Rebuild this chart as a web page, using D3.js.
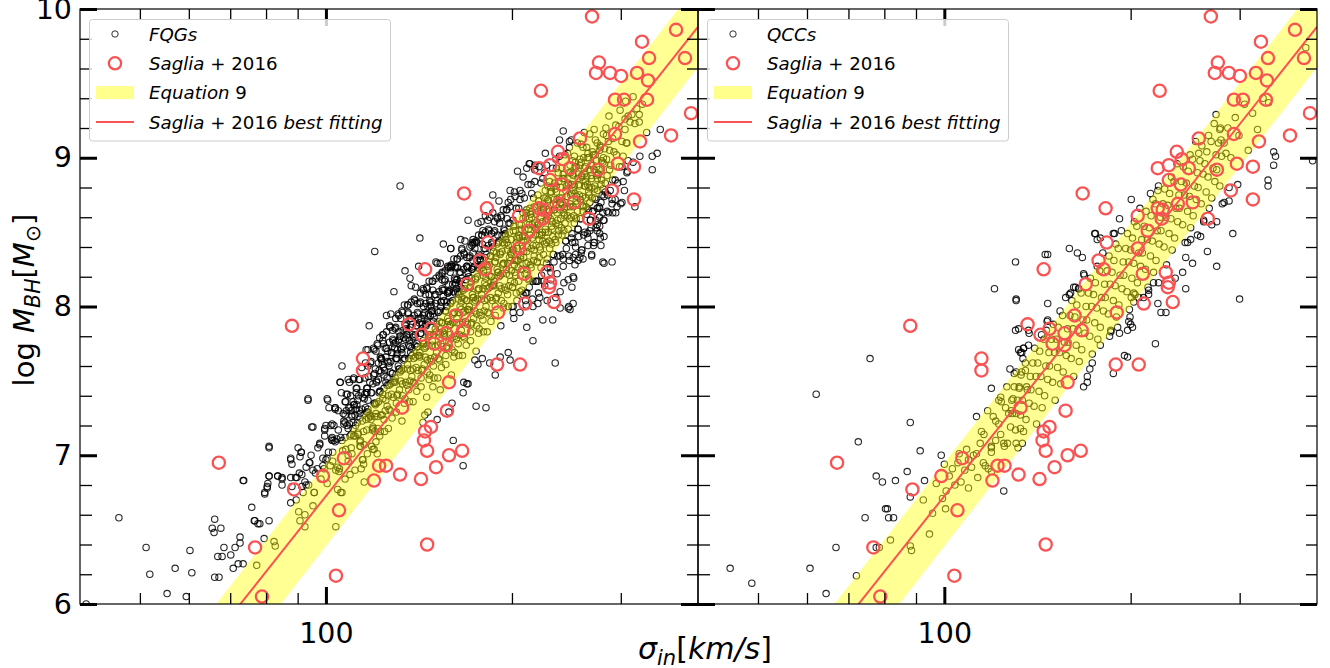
<!DOCTYPE html>
<html>
<head>
<meta charset="utf-8">
<script src="https://cdn.jsdelivr.net/npm/d3@7"></script>
<style>
  body { margin: 0; background: #fff; }
  text { font-family: "DejaVu Sans", sans-serif; }
</style>
</head>
<body>
<script>
// ---- data ----
var xDomain = [40, 400];           // sigma_in, km/s (log axis)
var yDomain = [6, 10];             // log M_BH
var yMajor = [6, 7, 8, 9, 10];
var yMinor = [6.2, 6.4, 6.6, 6.8, 7.2, 7.4, 7.6, 7.8, 8.2, 8.4, 8.6, 8.8, 9.2, 9.4, 9.6, 9.8];
var xMajor = [100];
var xMinor = [50, 60, 70, 80, 90, 200, 300];

// Saglia+2016 galaxies: [sigma (km/s), log M_BH]
var sagliaPoints = [
  [269.5,9.95],[368.6,9.86],[324.7,9.78],[333.3,9.67],[381.1,9.67],[276.6,9.64],[273.5,9.57],[288.2,9.57],
  [300.3,9.55],[318.7,9.57],[332.0,9.52],[222.8,9.45],[293.6,9.39],[303.7,9.39],[330.8,9.39],[389.7,9.30],
  [361.8,9.15],[293.6,9.16],[257.7,9.13],[322.3,9.11],[237.4,9.04],[241.9,8.99],[230.5,8.95],[221.2,8.93],
  [248.3,8.93],[275.6,8.92],[296.9,8.96],[315.1,8.94],[230.5,8.85],[241.0,8.82],[290.3,8.78],[315.1,8.72],
  [167.3,8.76],[252.0,8.70],[238.4,8.69],[182.2,8.66],[221.2,8.66],[225.3,8.65],[205.3,8.61],[224.4,8.59],
  [266.5,8.59],[213.1,8.51],[182.9,8.43],[205.3,8.39],[177.5,8.31],[180.9,8.25],[209.2,8.22],[169.2,8.15],
  [227.9,8.23],[230.5,8.16],[229.6,8.13],[210.0,8.02],[233.9,8.03],[189.9,7.96],[88.1,7.87],[67.1,6.95],
  [144.7,8.25],[136.3,7.88],[162.3,7.94],[166.7,7.84],[147.9,7.85],[143.0,7.81],[156.4,7.82],[149.6,7.75],
  [156.4,7.74],[114.8,7.65],[114.8,7.57],[158.2,7.49],[132.8,7.32],[157.0,7.30],[147.9,7.19],[144.7,7.16],
  [144.1,7.10],[145.8,7.03],[158.2,7.00],[166.1,7.03],[150.7,6.92],[142.5,6.84],[131.8,6.87],[125.1,6.93],
  [121.9,6.93],[119.6,6.83],[106.9,6.98],[98.9,6.86],[88.8,6.77],[105.0,6.63],[76.8,6.38],[103.8,6.19],
  [78.8,6.05],[145.8,6.40],[189.2,7.61],[206.1,7.61]
];

// Equation 9 band (edges) and Saglia+2016 best-fitting line
var eq9Sigma = [40, 400];
var eq9Lower = [4.26, 9.61];
var eq9Upper = [4.82, 10.17];
var fitSigma = [40, 400];
var fitLogM = [4.64, 9.88];

// FQGs: [log sigma, log M_BH], scattered outskirts
var fqgOuter = [
  [1.665,6.58],[1.709,6.38],[1.715,6.20],[1.743,6.07],[1.756,6.24],[1.774,6.05],[1.780,6.36],[1.783,6.21],
  [1.820,6.18],[1.827,6.18],[1.820,6.57],[1.816,6.51],[1.819,6.48],[1.830,6.51],[1.825,6.32],[1.832,6.32],
  [1.835,6.38],[1.846,6.33],[1.850,6.24],[1.853,6.38],[1.858,6.27],[1.866,6.27],[1.861,6.41],[1.861,6.45],
  [1.867,6.83],[1.880,6.65],[1.884,6.56],[1.885,6.56],[1.890,6.54],[1.893,6.54],[1.908,6.56],[1.900,6.44],
  [1.888,6.26],[1.908,7.05],[1.901,6.74],[1.905,6.78],[1.908,6.86],[1.922,6.86],[1.929,6.84],[1.929,6.80],
  [1.916,6.42],[1.918,6.39],[1.943,6.97],[1.945,6.94],[1.951,6.85],[1.943,6.68],[1.960,7.02],[1.971,7.38],
  [1.961,6.87],[1.956,6.62],[1.958,6.56],[1.966,6.60],[1.966,6.52],[1.974,6.95],[1.979,7.19],[1.981,6.75],
  [1.990,7.08],[2.000,6.97],[1.997,6.91],[2.002,7.38],[2.015,7.32],[1.998,7.17],[2.008,7.20],[2.010,7.10],
  [2.015,7.09],[2.026,7.10],[2.011,6.96],[2.019,6.92],[2.021,6.89],[2.031,6.84],[2.024,6.75],[2.016,6.52],
  [2.023,7.49],[2.031,7.36],[2.031,7.22],[2.036,7.18],[2.041,7.14],[2.041,7.30],[2.045,7.34],[2.050,7.45],
  [2.063,7.41],[2.047,7.27],[2.055,7.25],[2.044,7.18],[2.052,7.15],[2.055,7.09],[2.055,7.06],[2.060,6.97],
  [2.057,6.91],[2.062,6.82],[2.076,7.04],[2.066,7.42],[2.068,7.37],[2.073,7.24],[2.076,7.19],[2.079,7.16],
  [2.068,7.29],[2.079,7.26],[2.081,7.09],[2.078,7.04],[1.612,6.00],
  [2.152,8.46],[2.079,8.37],[2.202,8.39],[2.220,8.38],[2.236,8.41],[2.241,8.43],[2.238,8.36],[2.246,8.56],
  [2.128,8.24],[2.136,8.19],[2.180,8.29],[2.188,8.22],[2.202,8.26],[2.210,8.26],[2.212,8.18],[2.228,8.27],
  [2.236,8.25],[2.199,8.10],[2.167,8.08],[2.220,8.06],[2.162,8.02],[2.172,7.97],[2.186,8.00],[2.196,8.00],
  [2.154,7.92],[2.164,7.90],[2.133,7.96],[2.120,7.80],[2.113,7.76],[2.092,7.77],[2.102,7.60],[2.115,7.65],
  [2.123,7.69],[2.136,7.73],[2.141,7.79],[2.147,7.75],[2.068,7.71],[2.026,7.60],[2.023,7.49],[2.036,7.51],
  [2.049,7.45],[2.066,7.42],[1.971,7.37],[2.003,7.37],[2.015,7.32],[2.032,7.36],[2.044,7.36],[2.039,7.32],
  [2.050,7.34],[2.028,7.28],[2.042,7.26],[2.055,7.28],[2.066,7.29],[2.029,7.23],[2.020,7.17],[1.977,7.19],
  [1.998,7.18],[2.010,7.21],[2.010,7.12],[2.013,7.10],[1.990,7.07],[1.908,7.06],[1.943,6.98],[1.960,7.02],
  [1.958,6.99],[1.973,6.95],[1.986,6.91],[1.979,6.90],[2.002,6.98],[1.995,6.93],[1.866,6.83],[1.908,6.86],
  [1.922,6.86],[1.929,6.85],[1.906,6.81],[1.905,6.79],[1.901,6.75],[1.943,6.85],[1.953,6.85],[1.966,6.82],
  [1.945,6.79],[1.961,6.79],[1.968,6.80],[1.981,6.75],[2.026,6.75],[2.222,6.93],[2.206,7.10],[2.243,7.33],
  [2.223,7.49],[2.230,7.48],[2.222,7.42],[2.180,7.24],[2.165,7.29],[2.173,7.46],[2.185,7.44],[2.204,7.35],
  [2.199,7.29],[2.157,7.22],[2.160,7.27],
  [2.541,9.19],[2.528,9.01],[2.536,9.03],[2.528,8.92],[2.519,9.17],[2.507,9.24],[2.500,9.23],[2.492,9.24],
  [2.495,9.29],[2.507,9.29],[2.476,9.32],[2.484,9.26],[2.508,9.01],[2.497,8.97],[2.487,9.10],[2.489,8.98],
  [2.479,8.94],[2.487,8.90],[2.481,8.84],[2.464,8.85],[2.460,8.78],[2.468,8.72],[2.450,8.74],[2.463,8.69],
  [2.455,8.64],[2.450,8.58],[2.443,8.49],[2.430,8.34],[2.450,8.47],[2.448,8.30],[2.463,8.30],[2.434,8.43],
  [2.439,8.51],[2.416,8.32],[2.414,8.38],[2.403,8.28],[2.400,8.20],[2.392,8.18],[2.385,8.16],[2.398,8.13],
  [2.392,7.99],[2.379,8.10],[2.372,8.06],[2.384,9.18],[2.355,9.03],[2.330,8.96],[2.325,8.93],[2.338,8.92],
  [2.319,8.87],[2.314,8.78],[2.306,8.74],[2.299,8.72],[2.280,8.71],[2.295,8.70],[2.270,8.63],[2.262,8.58],
  [2.251,8.57],[2.254,8.51],[2.238,8.45],[2.241,8.43],[2.220,8.39],[2.202,8.39],[2.209,8.27],[2.201,8.27],
  [2.188,8.23],[2.212,8.18],[2.217,8.13],[2.191,8.11],[2.197,8.09],[2.427,8.51],[2.443,8.60],[2.439,8.66],
  [2.464,8.63],[2.471,8.67],[2.479,8.70],[2.400,8.02],[2.395,7.98],[2.379,7.99],[2.358,8.04],[2.346,8.06],
  [2.400,8.33],[2.411,8.33],
  [2.371,7.62],[2.367,7.91],[2.393,8.00],[2.401,8.19],[2.408,8.31],[2.430,8.35],[2.445,8.41],[2.450,8.29],
  [2.469,8.63],[2.500,8.67],[2.394,9.11],[2.329,8.96],[2.335,8.00],[2.325,8.09],[2.343,8.02],[2.351,7.91],
  [2.303,7.96],[2.325,7.86],[2.335,7.77],[2.295,7.69],[2.298,7.64],[2.274,7.54],[2.282,7.66],[2.265,7.62],
  [2.253,7.65],[2.241,7.64],[2.246,7.61],[2.228,7.48],[2.259,7.32],[2.120,8.81],
  [2.485,9.38],[2.497,9.41],[2.512,9.36],[2.503,9.33],
  [1.952,6.70],[1.957,6.88],[1.955,7.05],[1.963,6.75],[1.968,6.92],[1.972,6.80],[1.976,7.00],[1.979,6.66],
  [1.983,6.88],[1.987,7.05],[1.992,6.84],[1.995,6.98],[1.998,7.13]
];

// FQGs: dense ridge, first layer
var fqgInner = [
  [2.002,6.81],[2.007,6.93],[2.004,7.02],[2.009,7.11],[2.000,7.20],[2.005,7.32],
  [2.016,6.90],[2.011,7.02],[2.018,7.11],[2.013,7.20],[2.015,7.31],[2.019,6.77],
  [2.022,6.91],[2.027,7.03],[2.024,7.12],[2.029,7.21],[2.020,7.30],[2.025,7.42],
  [2.036,7.00],[2.031,7.12],[2.038,7.21],[2.033,7.30],[2.035,7.41],[2.039,6.87],
  [2.042,7.01],[2.047,7.13],[2.044,7.22],[2.049,7.31],[2.040,7.40],[2.045,7.52],
  [2.056,7.10],[2.051,7.22],[2.058,7.31],[2.053,7.40],[2.055,7.51],[2.059,6.97],
  [2.062,7.07],[2.066,7.17],[2.069,7.25],[2.064,7.32],[2.060,7.39],[2.067,7.45],[2.063,7.52],[2.068,7.60],[2.065,7.71],[2.061,6.94],
  [2.075,7.17],[2.071,7.27],[2.078,7.35],[2.073,7.42],[2.076,7.48],[2.079,7.55],[2.072,7.62],[2.077,7.72],[2.074,7.06],[2.070,7.87],
  [2.088,7.16],[2.084,7.26],[2.080,7.34],[2.086,7.42],[2.082,7.49],[2.089,7.56],[2.085,7.62],[2.081,7.70],[2.087,7.79],[2.083,7.01],
  [2.091,7.27],[2.097,7.37],[2.094,7.45],[2.099,7.52],[2.093,7.59],[2.090,7.65],[2.096,7.72],[2.092,7.81],[2.098,7.94],[2.095,7.16],
  [2.102,7.31],[2.106,7.41],[2.109,7.49],[2.104,7.56],[2.100,7.63],[2.107,7.69],[2.103,7.76],[2.108,7.84],[2.105,7.95],[2.101,7.18],
  [2.115,7.40],[2.111,7.50],[2.118,7.58],[2.113,7.65],[2.116,7.71],[2.119,7.78],[2.112,7.85],[2.117,7.95],[2.114,7.29],[2.110,8.10],
  [2.128,7.38],[2.124,7.48],[2.120,7.56],[2.126,7.64],[2.122,7.71],[2.129,7.78],[2.125,7.84],[2.121,7.92],[2.127,8.01],[2.123,7.23],
  [2.131,7.47],[2.137,7.57],[2.134,7.65],[2.139,7.72],[2.133,7.79],[2.130,7.85],[2.136,7.92],[2.132,8.01],[2.138,8.14],[2.135,7.36],
  [2.142,7.49],[2.146,7.59],[2.149,7.67],[2.144,7.74],[2.140,7.81],[2.147,7.87],[2.143,7.94],[2.148,8.02],[2.145,8.13],[2.141,7.36],
  [2.155,7.57],[2.151,7.67],[2.158,7.75],[2.153,7.82],[2.156,7.88],[2.159,7.95],[2.152,8.02],[2.157,8.12],[2.154,7.46],[2.150,8.27],
  [2.168,7.54],[2.164,7.64],[2.160,7.72],[2.166,7.80],[2.162,7.87],[2.169,7.94],[2.165,8.00],[2.161,8.08],[2.167,8.17],[2.163,7.39],
  [2.171,7.63],[2.177,7.73],[2.174,7.81],[2.179,7.88],[2.173,7.95],[2.170,8.01],[2.176,8.08],[2.172,8.17],[2.178,8.30],[2.175,7.52],
  [2.182,7.65],[2.186,7.75],[2.189,7.83],[2.184,7.90],[2.180,7.97],[2.187,8.03],[2.183,8.10],[2.188,8.18],[2.185,8.29],[2.181,7.52],
  [2.195,7.72],[2.191,7.82],[2.198,7.90],[2.193,7.97],[2.196,8.03],[2.199,8.10],[2.192,8.17],[2.197,8.27],[2.194,7.61],[2.190,8.42],
  [2.208,7.69],[2.204,7.79],[2.200,7.87],[2.206,7.95],[2.202,8.02],[2.209,8.09],[2.205,8.15],[2.201,8.23],[2.207,8.32],[2.203,7.54],
  [2.211,7.78],[2.217,7.88],[2.214,7.96],[2.219,8.03],[2.213,8.10],[2.210,8.16],[2.216,8.23],[2.212,8.32],[2.218,8.45],[2.215,7.67],
  [2.222,7.80],[2.226,7.90],[2.229,7.98],[2.224,8.05],[2.220,8.12],[2.227,8.18],[2.223,8.25],[2.228,8.33],[2.225,8.44],[2.221,7.67],
  [2.235,7.88],[2.231,7.98],[2.238,8.06],[2.233,8.13],[2.236,8.19],[2.239,8.26],[2.232,8.33],[2.237,8.43],[2.234,7.77],[2.230,8.58],
  [2.248,7.85],[2.244,7.95],[2.240,8.03],[2.246,8.11],[2.242,8.18],[2.249,8.25],[2.245,8.31],[2.241,8.39],[2.247,8.48],[2.243,7.70],
  [2.251,7.94],[2.257,8.04],[2.254,8.12],[2.259,8.19],[2.253,8.26],[2.250,8.32],[2.256,8.39],[2.252,8.48],[2.258,8.61],[2.255,7.83],
  [2.262,7.96],[2.266,8.06],[2.269,8.14],[2.264,8.21],[2.260,8.28],[2.267,8.34],[2.263,8.41],[2.268,8.49],[2.265,8.60],[2.261,7.83],
  [2.275,8.05],[2.271,8.15],[2.278,8.23],[2.273,8.30],[2.276,8.36],[2.279,8.43],[2.272,8.50],[2.277,8.60],[2.274,7.94],[2.270,8.75],
  [2.288,8.02],[2.284,8.12],[2.280,8.20],[2.286,8.28],[2.282,8.35],[2.289,8.42],[2.285,8.48],[2.281,8.56],[2.287,8.65],[2.283,7.87],
  [2.291,8.11],[2.297,8.21],[2.294,8.29],[2.299,8.36],[2.293,8.43],[2.290,8.49],[2.296,8.56],[2.292,8.65],[2.298,8.78],[2.295,8.00],
  [2.302,8.13],[2.306,8.23],[2.309,8.31],[2.304,8.38],[2.300,8.45],[2.307,8.51],[2.303,8.58],[2.308,8.66],[2.305,8.77],[2.301,8.00],
  [2.315,8.21],[2.311,8.31],[2.318,8.39],[2.313,8.46],[2.316,8.52],[2.319,8.59],[2.312,8.66],[2.317,8.76],[2.314,8.10],[2.310,8.91],
  [2.328,8.19],[2.324,8.29],[2.320,8.37],[2.326,8.45],[2.322,8.52],[2.329,8.59],[2.325,8.65],[2.321,8.73],[2.327,8.82],[2.323,8.04],
  [2.331,8.28],[2.337,8.38],[2.334,8.46],[2.339,8.53],[2.333,8.60],[2.330,8.66],[2.336,8.73],[2.332,8.82],[2.338,8.95],[2.335,8.17],
  [2.342,8.30],[2.346,8.40],[2.349,8.48],[2.344,8.55],[2.340,8.62],[2.347,8.68],[2.343,8.75],[2.348,8.83],[2.345,8.94],[2.341,8.17],
  [2.358,8.32],[2.354,8.42],[2.350,8.50],[2.356,8.58],[2.352,8.65],[2.359,8.72],[2.355,8.78],[2.351,8.86],[2.357,8.95],[2.353,8.17],
  [2.364,8.23],[2.368,8.35],[2.361,8.44],[2.366,8.52],[2.363,8.59],[2.369,8.65],[2.360,8.71],[2.365,8.77],[2.362,8.84],[2.367,8.93],
  [2.371,8.45],[2.377,8.55],[2.374,8.63],[2.379,8.70],[2.373,8.77],[2.370,8.83],[2.376,8.90],[2.372,8.99],[2.378,9.12],[2.375,8.34],
  [2.384,8.32],[2.388,8.44],[2.381,8.53],[2.386,8.61],[2.383,8.68],[2.389,8.74],[2.380,8.80],[2.385,8.86],[2.382,8.93],[2.387,9.02],
  [2.398,8.49],[2.394,8.59],[2.390,8.67],[2.396,8.75],[2.392,8.82],[2.399,8.89],[2.395,8.95],[2.391,9.03],[2.397,9.12],[2.393,8.34],
  [2.404,8.40],[2.408,8.52],[2.401,8.61],[2.406,8.69],[2.403,8.76],[2.409,8.82],[2.400,8.88],[2.405,8.94],[2.402,9.01],[2.407,9.10],
  [2.417,8.48],[2.412,8.59],[2.415,8.68],[2.410,8.75],[2.419,8.81],[2.414,8.87],[2.418,8.93],[2.411,8.99],[2.416,9.07],[2.413,8.36],
  [2.424,8.46],[2.428,8.58],[2.421,8.67],[2.426,8.75],[2.423,8.82],[2.429,8.88],[2.420,8.94],[2.425,9.00],[2.422,9.07],[2.427,9.16],
  [2.437,8.53],[2.432,8.64],[2.435,8.73],[2.430,8.80],[2.439,8.86],[2.434,8.92],[2.438,8.98],[2.431,9.04],[2.436,9.12],[2.433,8.41],
  [2.443,8.66],[2.448,8.79],[2.441,8.89],[2.446,8.98],[2.444,9.07],[2.449,9.16],
  [2.457,8.63],[2.452,8.77],[2.455,8.88],[2.450,8.96],[2.459,9.05],[2.454,9.15],
  [2.463,8.72],[2.468,8.85],[2.461,8.95],[2.466,9.04],[2.464,9.13],[2.469,9.22],
  [2.477,8.69],[2.472,8.83],[2.475,8.94],[2.470,9.02],[2.479,9.11],[2.474,9.21],
  [2.483,8.78],[2.488,8.91],[2.481,9.01],[2.486,9.10],[2.484,9.19],[2.489,9.28]
];

// FQGs: dense ridge, second layer
var fqgInner2 = [
  [2.036,6.96],[2.032,7.04],[2.039,7.13],[2.034,7.20],[2.031,7.27],[2.037,7.32],[2.033,7.41],[2.038,7.49],
  [2.041,7.05],[2.045,7.13],[2.048,7.20],[2.042,7.27],[2.046,7.34],[2.049,7.42],[2.044,7.51],[2.047,6.90],
  [2.056,7.06],[2.052,7.14],[2.059,7.23],[2.054,7.30],[2.051,7.37],[2.057,7.42],[2.053,7.51],[2.058,7.59],
  [2.061,7.16],[2.065,7.24],[2.068,7.31],[2.062,7.38],[2.066,7.45],[2.069,7.53],[2.064,7.62],[2.067,7.01],
  [2.076,7.18],[2.072,7.26],[2.079,7.35],[2.074,7.42],[2.071,7.49],[2.077,7.54],[2.073,7.63],[2.078,7.71],
  [2.081,7.28],[2.085,7.36],[2.088,7.43],[2.082,7.50],[2.086,7.57],[2.089,7.65],[2.084,7.74],[2.087,7.13],
  [2.096,7.30],[2.092,7.38],[2.099,7.47],[2.094,7.54],[2.091,7.61],[2.097,7.66],[2.093,7.75],[2.098,7.83],
  [2.101,7.40],[2.105,7.48],[2.108,7.55],[2.102,7.62],[2.106,7.69],[2.109,7.77],[2.104,7.86],[2.107,7.25],
  [2.116,7.41],[2.112,7.49],[2.119,7.58],[2.114,7.65],[2.111,7.72],[2.117,7.77],[2.113,7.86],[2.118,7.94],
  [2.121,7.50],[2.125,7.58],[2.128,7.65],[2.122,7.72],[2.126,7.79],[2.129,7.87],[2.124,7.96],[2.127,7.35],
  [2.136,7.50],[2.132,7.58],[2.139,7.67],[2.134,7.74],[2.131,7.81],[2.137,7.86],[2.133,7.95],[2.138,8.03],
  [2.141,7.58],[2.145,7.66],[2.148,7.73],[2.142,7.80],[2.146,7.87],[2.149,7.95],[2.144,8.04],[2.147,7.43],
  [2.156,7.58],[2.152,7.66],[2.159,7.75],[2.154,7.82],[2.151,7.89],[2.157,7.94],[2.153,8.03],[2.158,8.11],
  [2.161,7.66],[2.165,7.74],[2.168,7.81],[2.162,7.88],[2.166,7.95],[2.169,8.03],[2.164,8.12],[2.167,7.51],
  [2.176,7.66],[2.172,7.74],[2.179,7.83],[2.174,7.90],[2.171,7.97],[2.177,8.02],[2.173,8.11],[2.178,8.19],
  [2.181,7.74],[2.185,7.82],[2.188,7.89],[2.182,7.96],[2.186,8.03],[2.189,8.11],[2.184,8.20],[2.187,7.59],
  [2.196,7.73],[2.192,7.81],[2.199,7.90],[2.194,7.97],[2.191,8.04],[2.197,8.09],[2.193,8.18],[2.198,8.26],
  [2.201,7.81],[2.205,7.89],[2.208,7.96],[2.202,8.03],[2.206,8.10],[2.209,8.18],[2.204,8.27],[2.207,7.66],
  [2.216,7.81],[2.212,7.89],[2.219,7.98],[2.214,8.05],[2.211,8.12],[2.217,8.17],[2.213,8.26],[2.218,8.34],
  [2.221,7.89],[2.225,7.97],[2.228,8.04],[2.222,8.11],[2.226,8.18],[2.229,8.26],[2.224,8.35],[2.227,7.74],
  [2.236,7.89],[2.232,7.97],[2.239,8.06],[2.234,8.13],[2.231,8.20],[2.237,8.25],[2.233,8.34],[2.238,8.42],
  [2.241,7.97],[2.245,8.05],[2.248,8.12],[2.242,8.19],[2.246,8.26],[2.249,8.34],[2.244,8.43],[2.247,7.82],
  [2.256,7.97],[2.252,8.05],[2.259,8.14],[2.254,8.21],[2.251,8.28],[2.257,8.33],[2.253,8.42],[2.258,8.50],
  [2.261,8.05],[2.265,8.13],[2.268,8.20],[2.262,8.27],[2.266,8.34],[2.269,8.42],[2.264,8.51],[2.267,7.90],
  [2.276,8.06],[2.272,8.14],[2.279,8.23],[2.274,8.30],[2.271,8.37],[2.277,8.42],[2.273,8.51],[2.278,8.59],
  [2.281,8.14],[2.285,8.22],[2.288,8.29],[2.282,8.36],[2.286,8.43],[2.289,8.51],[2.284,8.60],[2.287,7.99],
  [2.296,8.14],[2.292,8.22],[2.299,8.31],[2.294,8.38],[2.291,8.45],[2.297,8.50],[2.293,8.59],[2.298,8.67],
  [2.303,8.00],[2.308,8.09],[2.305,8.16],[2.300,8.24],[2.306,8.31],[2.302,8.38],[2.309,8.46],[2.304,8.54],
  [2.311,8.26],[2.315,8.34],[2.318,8.41],[2.312,8.48],[2.316,8.55],[2.319,8.63],[2.314,8.72],[2.317,8.11],
  [2.323,8.09],[2.328,8.18],[2.325,8.25],[2.320,8.33],[2.326,8.40],[2.322,8.47],[2.329,8.55],[2.324,8.63],
  [2.336,8.31],[2.332,8.39],[2.339,8.48],[2.334,8.55],[2.331,8.62],[2.337,8.67],[2.333,8.76],[2.338,8.84],
  [2.343,8.17],[2.348,8.26],[2.345,8.33],[2.340,8.41],[2.346,8.48],[2.342,8.55],[2.349,8.63],[2.344,8.71],
  [2.351,8.44],[2.355,8.52],[2.358,8.59],[2.352,8.66],[2.356,8.73],[2.359,8.81],[2.354,8.90],[2.357,8.29],
  [2.363,8.26],[2.368,8.35],[2.365,8.42],[2.360,8.50],[2.366,8.57],[2.362,8.64],[2.369,8.72],[2.364,8.80],
  [2.376,8.48],[2.372,8.56],[2.379,8.65],[2.374,8.72],[2.371,8.79],[2.377,8.84],[2.373,8.93],[2.378,9.01],
  [2.383,8.35],[2.388,8.44],[2.385,8.51],[2.380,8.59],[2.386,8.66],[2.382,8.73],[2.389,8.81],[2.384,8.89],
  [2.391,8.61],[2.395,8.69],[2.398,8.76],[2.392,8.83],[2.396,8.90],[2.399,8.98],[2.394,9.07],[2.397,8.46],
  [2.403,8.43],[2.408,8.52],[2.405,8.59],[2.400,8.67],[2.406,8.74],[2.402,8.81],[2.409,8.89],[2.404,8.97],
  [2.416,8.64],[2.412,8.72],[2.419,8.81],[2.414,8.88],[2.411,8.95],[2.417,9.00],[2.413,9.09],[2.418,9.17],
  [2.423,8.49],[2.428,8.58],[2.425,8.65],[2.420,8.73],[2.426,8.80],[2.422,8.87],[2.429,8.95],[2.424,9.03],
  [2.431,8.73],[2.435,8.81],[2.438,8.88],[2.432,8.95],[2.436,9.02],[2.439,9.10],[2.434,9.19],[2.437,8.58],
  [2.443,8.54],[2.448,8.63],[2.445,8.70],[2.440,8.78],[2.446,8.85],[2.442,8.92],[2.449,9.00],[2.444,9.08],
  [2.456,8.75],[2.452,8.83],[2.459,8.92],[2.454,8.99],[2.451,9.06],[2.457,9.11],[2.453,9.20],[2.458,9.28]
];

// FQGs: dense ridge, third layer
var fqgInner3 = [
  [2.084,7.18],[2.089,7.27],[2.082,7.35],[2.087,7.43],[2.085,7.51],[2.080,7.58],[2.088,7.66],[2.083,7.75],
  [2.094,7.24],[2.099,7.33],[2.092,7.41],[2.097,7.49],[2.095,7.57],[2.090,7.64],[2.098,7.72],[2.093,7.81],
  [2.104,7.30],[2.109,7.39],[2.102,7.47],[2.107,7.55],[2.105,7.63],[2.100,7.70],[2.108,7.78],[2.103,7.87],
  [2.114,7.35],[2.119,7.44],[2.112,7.52],[2.117,7.60],[2.115,7.68],[2.110,7.75],[2.118,7.83],[2.113,7.92],
  [2.124,7.40],[2.129,7.49],[2.122,7.57],[2.127,7.65],[2.125,7.73],[2.120,7.80],[2.128,7.88],[2.123,7.97],
  [2.134,7.44],[2.139,7.53],[2.132,7.61],[2.137,7.69],[2.135,7.77],[2.130,7.84],[2.138,7.92],[2.133,8.01],
  [2.144,7.48],[2.149,7.57],[2.142,7.65],[2.147,7.73],[2.145,7.81],[2.140,7.88],[2.148,7.96],[2.143,8.05],
  [2.154,7.52],[2.159,7.61],[2.152,7.69],[2.157,7.77],[2.155,7.85],[2.150,7.92],[2.158,8.00],[2.153,8.09],
  [2.164,7.56],[2.169,7.65],[2.162,7.73],[2.167,7.81],[2.165,7.89],[2.160,7.96],[2.168,8.04],[2.163,8.13],
  [2.174,7.60],[2.179,7.69],[2.172,7.77],[2.177,7.85],[2.175,7.93],[2.170,8.00],[2.178,8.08],[2.173,8.17],
  [2.184,7.64],[2.189,7.73],[2.182,7.81],[2.187,7.89],[2.185,7.97],[2.180,8.04],[2.188,8.12],[2.183,8.21],
  [2.194,7.67],[2.199,7.76],[2.192,7.84],[2.197,7.92],[2.195,8.00],[2.190,8.07],[2.198,8.15],[2.193,8.24],
  [2.204,7.71],[2.209,7.80],[2.202,7.88],[2.207,7.96],[2.205,8.04],[2.200,8.11],[2.208,8.19],[2.203,8.28],
  [2.214,7.75],[2.219,7.84],[2.212,7.92],[2.217,8.00],[2.215,8.08],[2.210,8.15],[2.218,8.23],[2.213,8.32],
  [2.224,7.79],[2.229,7.88],[2.222,7.96],[2.227,8.04],[2.225,8.12],[2.220,8.19],[2.228,8.27],[2.223,8.36],
  [2.234,7.83],[2.239,7.92],[2.232,8.00],[2.237,8.08],[2.235,8.16],[2.230,8.23],[2.238,8.31],[2.233,8.40],
  [2.244,7.87],[2.249,7.96],[2.242,8.04],[2.247,8.12],[2.245,8.20],[2.240,8.27],[2.248,8.35],[2.243,8.44],
  [2.254,7.91],[2.259,8.00],[2.252,8.08],[2.257,8.16],[2.255,8.24],[2.250,8.31],[2.258,8.39],[2.253,8.48],
  [2.264,7.95],[2.269,8.04],[2.262,8.12],[2.267,8.20],[2.265,8.28],[2.260,8.35],[2.268,8.43],[2.263,8.52],
  [2.274,8.00],[2.279,8.09],[2.272,8.17],[2.277,8.25],[2.275,8.33],[2.270,8.40],[2.278,8.48],[2.273,8.57],
  [2.284,8.04],[2.289,8.13],[2.282,8.21],[2.287,8.29],[2.285,8.37],[2.280,8.44],[2.288,8.52],[2.283,8.61],
  [2.294,8.08],[2.299,8.17],[2.292,8.25],[2.297,8.33],[2.295,8.41],[2.290,8.48],[2.298,8.56],[2.293,8.65],
  [2.304,7.92],[2.309,8.04],[2.302,8.13],[2.307,8.21],[2.305,8.28],[2.300,8.35],[2.308,8.43],[2.303,8.51],
  [2.314,7.96],[2.319,8.08],[2.312,8.17],[2.317,8.25],[2.315,8.32],[2.310,8.39],[2.318,8.47],[2.313,8.55],
  [2.324,8.01],[2.329,8.13],[2.322,8.22],[2.327,8.30],[2.325,8.37],[2.320,8.44],[2.328,8.52],[2.323,8.60],
  [2.334,8.05],[2.339,8.17],[2.332,8.26],[2.337,8.34],[2.335,8.41],[2.330,8.48],[2.338,8.56],[2.333,8.64],
  [2.344,8.09],[2.349,8.21],[2.342,8.30],[2.347,8.38],[2.345,8.45],[2.340,8.52],[2.348,8.60],[2.343,8.68],
  [2.354,8.14],[2.359,8.26],[2.352,8.35],[2.357,8.43],[2.355,8.50],[2.350,8.57],[2.358,8.65],[2.353,8.73],
  [2.364,8.18],[2.369,8.30],[2.362,8.39],[2.367,8.47],[2.365,8.54],[2.360,8.61],[2.368,8.69],[2.363,8.77],
  [2.374,8.22],[2.379,8.34],[2.372,8.43],[2.377,8.51],[2.375,8.58],[2.370,8.65],[2.378,8.73],[2.373,8.81],
  [2.384,8.27],[2.389,8.39],[2.382,8.48],[2.387,8.56],[2.385,8.63],[2.380,8.70],[2.388,8.78],[2.383,8.86],
  [2.394,8.31],[2.399,8.43],[2.392,8.52],[2.397,8.60],[2.395,8.67],[2.390,8.74],[2.398,8.82],[2.393,8.90],
  [2.404,8.35],[2.409,8.47],[2.402,8.56],[2.407,8.64],[2.405,8.71],[2.400,8.78],[2.408,8.86],[2.403,8.94],
  [2.414,8.38],[2.419,8.50],[2.412,8.59],[2.417,8.67],[2.415,8.74],[2.410,8.81],[2.418,8.89],[2.413,8.97],
  [2.424,8.41],[2.429,8.53],[2.422,8.62],[2.427,8.70],[2.425,8.77],[2.420,8.84],[2.428,8.92],[2.423,9.00],
  [2.434,8.43],[2.439,8.55],[2.432,8.64],[2.437,8.72],[2.435,8.79],[2.430,8.86],[2.438,8.94],[2.433,9.02],
  [2.444,8.46],[2.449,8.58],[2.442,8.67],[2.447,8.75],[2.445,8.82],[2.440,8.89],[2.448,8.97],[2.443,9.05]
];

// QCCs: [log sigma, log M_BH]
var qccOuter = [
  [1.654,6.24],[1.689,6.14],[1.783,6.24],[1.809,6.07],[1.825,6.38],[1.793,7.41],[1.880,7.65],[1.861,7.09],
  [1.858,6.19],[1.890,6.86],[1.900,6.82],[1.921,6.83],[1.940,6.89],[1.945,7.22],[1.961,7.03],[1.872,6.58],
  [1.905,6.64],[1.908,6.64],[1.910,6.58],[1.918,6.58],[1.895,6.38],[1.890,6.38],[1.913,6.43],[1.945,6.39],
  [1.947,6.36],[1.945,6.72],[1.966,6.70],[1.968,6.83],[1.976,6.47],[1.981,6.61],[1.987,6.81],[1.995,7.00],
  [1.997,6.71],[2.002,6.64],[2.000,6.94],[2.013,6.91],[2.024,7.01],[2.027,6.82],[2.039,6.97],[2.036,7.04],
  [2.052,7.01],[2.044,6.92],[2.054,6.85],[2.039,6.78],[2.063,6.95],[2.066,6.93],[2.076,7.02],[2.076,7.05],
  [2.076,7.06],[2.060,7.16],[2.052,7.26],[2.071,6.91],[2.076,6.89],[2.096,6.76],[2.091,7.14],[2.096,7.08],
  [2.097,7.06],[2.076,7.45],[2.070,7.30],[2.079,7.26],[2.083,7.23],[2.091,7.39],[2.088,7.37],[2.092,7.36],
  [2.099,7.32],[2.113,7.55],[2.121,7.45],[2.111,7.38],[2.108,7.30],[2.116,7.28],[2.123,7.18],[2.116,7.08],
  [2.126,7.08],[2.115,7.84],[2.120,7.71],[2.125,7.69],[2.128,7.72],[2.116,8.04],[2.125,7.56],[2.131,7.57],
  [2.133,7.46],
  [2.115,8.30],[2.081,8.12],[2.116,8.05],[2.167,8.35],[2.167,8.02],[2.202,8.39],[2.215,8.36],[2.223,8.33],
  [2.225,8.22],[2.209,8.13],[2.217,8.12],[2.204,8.09],[2.167,7.91],[2.165,7.84],[2.120,7.85],[2.128,7.72],
  [2.123,7.69],[2.136,7.84],[2.137,7.82],[2.243,8.49],[2.252,8.46],[2.273,8.49],[2.283,8.59],[2.302,8.72],
  [2.333,8.76],[2.345,8.78],[2.346,8.16],[2.345,8.02],[2.341,7.75],[2.296,7.66],[2.291,7.67],[2.273,7.55],
  [2.231,7.49],[2.231,7.53],[2.225,7.46],[2.235,7.58],[2.239,7.62],[2.252,7.74],[2.267,7.80],[2.269,7.84],
  [2.296,7.84],[2.304,7.86],[2.301,7.88],[2.280,7.86],[2.283,7.82],[2.330,8.11],[2.322,8.06],[2.338,8.16],
  [2.330,8.08],[2.314,8.06],[2.306,8.09],
  [2.439,9.29],[2.445,9.19],[2.447,9.12],[2.411,9.03],[2.455,9.03],[2.524,9.37],[2.584,9.74],[2.532,9.04],
  [2.535,9.01],[2.532,8.95],[2.523,8.85],[2.523,8.81],[2.595,8.98],[2.474,8.82],[2.460,8.80],[2.452,8.70],
  [2.460,8.71],[2.440,8.57],[2.432,8.55],[2.419,8.58],[2.466,8.49],[2.425,8.37],[2.440,8.27],[2.401,8.29],
  [2.390,8.33],[2.409,8.48],[2.414,8.47],[2.398,8.45],[2.393,8.43],[2.390,8.12],[2.477,8.05],[2.385,8.23],
  [2.373,8.19],[2.358,7.96],[2.350,7.96],[2.275,8.49],[2.244,8.49],[2.247,8.45],[2.163,8.35],[2.202,8.08],
  [2.212,8.13],[2.302,8.06],[2.306,8.03],[2.300,7.93],[2.298,7.90],
  [2.003,6.76],[2.008,6.86],[2.017,6.80],[2.022,6.95],[2.033,6.90],[2.047,7.00],[2.058,7.08],[2.064,7.14],
  [2.083,7.10],[2.088,7.21],
  [2.452,9.10],[2.458,9.20],[2.463,9.00],[2.470,9.27],[2.476,9.15],[2.485,9.36],[2.491,9.05],[2.498,9.30],
  [2.506,9.19],[2.515,9.40]
];

var qccInner = [
  [2.102,7.08],[2.107,7.19],[2.104,7.28],[2.109,7.37],[2.101,7.46],[2.106,7.58],
  [2.115,7.17],[2.110,7.28],[2.118,7.37],[2.113,7.46],[2.116,7.56],[2.119,7.05],
  [2.128,7.16],[2.123,7.27],[2.126,7.37],[2.121,7.46],[2.124,7.54],[2.127,7.65],
  [2.132,7.24],[2.137,7.35],[2.134,7.44],[2.139,7.53],[2.131,7.62],[2.136,7.74],
  [2.145,7.33],[2.140,7.44],[2.148,7.53],[2.143,7.62],[2.146,7.72],[2.149,7.21],
  [2.158,7.32],[2.153,7.43],[2.156,7.53],[2.151,7.62],[2.154,7.70],[2.157,7.81],
  [2.162,7.40],[2.167,7.51],[2.164,7.60],[2.169,7.69],[2.161,7.78],[2.166,7.90],
  [2.175,7.49],[2.170,7.60],[2.178,7.69],[2.173,7.78],[2.176,7.88],[2.179,7.37],
  [2.188,7.48],[2.183,7.59],[2.186,7.69],[2.181,7.78],[2.184,7.86],[2.187,7.97],
  [2.192,7.56],[2.197,7.67],[2.194,7.76],[2.199,7.85],[2.191,7.94],[2.196,8.06],
  [2.205,7.65],[2.200,7.76],[2.208,7.85],[2.203,7.94],[2.206,8.04],[2.209,7.53],
  [2.218,7.63],[2.213,7.74],[2.216,7.84],[2.211,7.93],[2.214,8.01],[2.217,8.12],
  [2.222,7.71],[2.227,7.82],[2.224,7.91],[2.229,8.00],[2.221,8.09],[2.226,8.21],
  [2.235,7.80],[2.230,7.91],[2.238,8.00],[2.233,8.09],[2.236,8.19],[2.239,7.68],
  [2.248,7.78],[2.243,7.89],[2.246,7.99],[2.241,8.08],[2.244,8.16],[2.247,8.27],
  [2.252,7.86],[2.257,7.97],[2.254,8.06],[2.259,8.15],[2.251,8.24],[2.256,8.36],
  [2.265,7.95],[2.260,8.06],[2.268,8.15],[2.263,8.24],[2.266,8.34],[2.269,7.83],
  [2.278,7.93],[2.273,8.04],[2.276,8.14],[2.271,8.23],[2.274,8.31],[2.277,8.42],
  [2.282,8.01],[2.287,8.12],[2.284,8.21],[2.289,8.30],[2.281,8.39],[2.286,8.51],
  [2.295,8.10],[2.290,8.21],[2.298,8.30],[2.293,8.39],[2.296,8.49],[2.299,7.98],
  [2.308,8.08],[2.303,8.19],[2.306,8.29],[2.301,8.38],[2.304,8.46],[2.307,8.57],
  [2.312,8.16],[2.317,8.27],[2.314,8.36],[2.319,8.45],[2.311,8.54],[2.316,8.66],
  [2.325,8.25],[2.320,8.36],[2.328,8.45],[2.323,8.54],[2.326,8.64],[2.329,8.13],
  [2.338,8.23],[2.333,8.34],[2.336,8.44],[2.331,8.53],[2.334,8.61],[2.337,8.72],
  [2.342,8.31],[2.347,8.42],[2.344,8.51],[2.349,8.60],[2.341,8.69],[2.346,8.81],
  [2.355,8.40],[2.350,8.51],[2.358,8.60],[2.353,8.69],[2.356,8.79],[2.359,8.28],
  [2.368,8.38],[2.363,8.49],[2.366,8.59],[2.361,8.68],[2.364,8.76],[2.367,8.87],
  [2.372,8.46],[2.377,8.57],[2.374,8.66],[2.379,8.75],[2.371,8.84],[2.376,8.96],
  [2.385,8.55],[2.380,8.66],[2.388,8.75],[2.383,8.84],[2.386,8.94],[2.389,8.43],
  [2.398,8.53],[2.393,8.64],[2.396,8.74],[2.391,8.83],[2.394,8.91],[2.397,9.02],
  [2.402,8.61],[2.407,8.72],[2.404,8.81],[2.409,8.90],[2.401,8.99],[2.406,9.11],
  [2.415,8.69],[2.410,8.80],[2.418,8.89],[2.413,8.98],[2.416,9.08],[2.419,8.57],
  [2.428,8.66],[2.423,8.77],[2.426,8.87],[2.421,8.96],[2.424,9.04],[2.427,9.15],
  [2.432,8.73],[2.437,8.84],[2.434,8.93],[2.439,9.02],[2.431,9.11],[2.436,9.23],
  [2.445,8.81],[2.440,8.92],[2.448,9.01],[2.443,9.10],[2.446,9.20],[2.449,8.69]
];

var fqgPoints = fqgOuter.concat(fqgInner, fqgInner2, fqgInner3);
var qccPoints = qccOuter.concat(qccInner);

// ---- drawing ----
var W = 1330, H = 668, plotTop = 9, plotBottom = 604;
var red = "#fa5252";

var svg = d3.select("body").append("svg").attr("width", W).attr("height", H);
svg.append("rect").attr("width", W).attr("height", H).attr("fill", "#fff");

var y = d3.scaleLinear().domain(yDomain).range([plotBottom, plotTop]);

var panels = [
  { x0: 80, x1: 698, pts: fqgPoints, name: "FQGs", yLabels: true },
  { x0: 698, x1: 1317, pts: qccPoints, name: "QCCs", yLabels: false }
];

function tidy(sel, w) {
  sel.select(".domain").remove();
  sel.selectAll(".tick line").attr("stroke", "#000").attr("stroke-width", w);
  sel.attr("font-family", "DejaVu Sans").attr("font-size", 28.5);
  sel.selectAll(".tick text").attr("fill", "#000");
}

panels.forEach(function (p, i) {
  var x = d3.scaleLog().domain(xDomain).range([p.x0, p.x1]);
  var g = svg.append("g");

  g.append("clipPath").attr("id", "clip" + i).append("rect")
    .attr("x", p.x0).attr("y", plotTop).attr("width", p.x1 - p.x0).attr("height", plotBottom - plotTop);
  var plot = g.append("g").attr("clip-path", "url(#clip" + i + ")");

  plot.selectAll("circle.pt").data(p.pts).enter().append("circle")
    .attr("class", "pt")
    .attr("cx", function (d) { return x(Math.pow(10, d[0])); })
    .attr("cy", function (d) { return y(d[1]); })
    .attr("r", 3.2)
    .attr("fill", "none")
    .attr("stroke", "#000")
    .attr("stroke-opacity", 0.85)
    .attr("stroke-width", 1.1);

  var band = eq9Sigma.map(function (s, k) { return { s: s, lo: eq9Lower[k], hi: eq9Upper[k] }; });
  plot.append("path").datum(band)
    .attr("d", d3.area().x(function (d) { return x(d.s); })
      .y0(function (d) { return y(d.lo); }).y1(function (d) { return y(d.hi); }))
    .attr("fill", "yellow").attr("fill-opacity", 0.42);

  plot.selectAll("circle.sag").data(sagliaPoints).enter().append("circle")
    .attr("class", "sag")
    .attr("cx", function (d) { return x(d[0]); })
    .attr("cy", function (d) { return y(d[1]); })
    .attr("r", 6.1)
    .attr("fill", "none")
    .attr("stroke", red)
    .attr("stroke-width", 2.3);

  var fit = fitSigma.map(function (s, k) { return [s, fitLogM[k]]; });
  plot.append("path").datum(fit)
    .attr("d", d3.line().x(function (d) { return x(d[0]); }).y(function (d) { return y(d[1]); }))
    .attr("fill", "none").attr("stroke", red).attr("stroke-width", 2);

  // y ticks, left and right side, pointing inward
  g.append("g").attr("transform", "translate(" + p.x0 + ",0)")
    .call(d3.axisLeft(y).tickValues(yMajor).tickSize(-17).tickPadding(8)
      .tickFormat(p.yLabels ? d3.format("d") : ""))
    .call(tidy, 3);
  g.append("g").attr("transform", "translate(" + p.x0 + ",0)")
    .call(d3.axisLeft(y).tickValues(yMinor).tickSize(-12).tickFormat(""))
    .call(tidy, 1.3);
  g.append("g").attr("transform", "translate(" + p.x1 + ",0)")
    .call(d3.axisRight(y).tickValues(yMajor).tickSize(-17).tickFormat(""))
    .call(tidy, 3);
  g.append("g").attr("transform", "translate(" + p.x1 + ",0)")
    .call(d3.axisRight(y).tickValues(yMinor).tickSize(-11).tickFormat(""))
    .call(tidy, 1.3);

  // x ticks, bottom and top
  g.append("g").attr("transform", "translate(0," + plotBottom + ")")
    .call(d3.axisBottom(x).tickValues(xMajor).tickSize(-17).tickPadding(19).tickFormat(d3.format("d")))
    .call(tidy, 3);
  g.append("g").attr("transform", "translate(0," + plotBottom + ")")
    .call(d3.axisBottom(x).tickValues(xMinor).tickSize(-11).tickFormat(""))
    .call(tidy, 1.3);
  g.append("g").attr("transform", "translate(0," + plotTop + ")")
    .call(d3.axisTop(x).tickValues(xMajor).tickSize(-17).tickFormat(""))
    .call(tidy, 3);
  g.append("g").attr("transform", "translate(0," + plotTop + ")")
    .call(d3.axisTop(x).tickValues(xMinor).tickSize(-11).tickFormat(""))
    .call(tidy, 1.3);

  g.append("rect")
    .attr("x", p.x0).attr("y", plotTop).attr("width", p.x1 - p.x0).attr("height", plotBottom - plotTop)
    .attr("fill", "none").attr("stroke", "#000").attr("stroke-width", 1.2);

  // legend
  var lx = p.x0 + 9.5, ly = 19.5;
  var lg = g.append("g");
  lg.append("rect").attr("x", lx).attr("y", ly).attr("width", 301).attr("height", 121.5)
    .attr("rx", 3).attr("fill", "#fff").attr("fill-opacity", 0.8)
    .attr("stroke", "#cccccc").attr("stroke-width", 1);
  var rows = [34, 63.3, 92.6, 122];
  var mx = lx + 25.5, tx = lx + 59.5;
  lg.append("circle").attr("cx", mx).attr("cy", rows[0]).attr("r", 3.2)
    .attr("fill", "none").attr("stroke", "#000").attr("stroke-opacity", 0.8);
  lg.append("circle").attr("cx", mx).attr("cy", rows[1]).attr("r", 6.1)
    .attr("fill", "none").attr("stroke", red).attr("stroke-width", 2.3);
  lg.append("rect").attr("x", lx + 6.5).attr("y", rows[2] - 6.5).attr("width", 38).attr("height", 13)
    .attr("fill", "yellow").attr("fill-opacity", 0.45);
  lg.append("line").attr("x1", lx + 6.5).attr("x2", lx + 44.5).attr("y1", rows[3]).attr("y2", rows[3])
    .attr("stroke", red).attr("stroke-width", 2);

  var entries = [
    [[p.name, true]],
    [["Saglia", true], [" + 2016", false]],
    [["Equation", true], [" 9", false]],
    [["Saglia", true], [" + 2016 ", false], ["best fitting", true]]
  ];
  entries.forEach(function (parts, k) {
    var t = lg.append("text").attr("x", tx).attr("y", rows[k]).attr("dy", "0.36em")
      .attr("font-size", 18.2).attr("fill", "#000").style("white-space", "pre");
    parts.forEach(function (pt) {
      t.append("tspan").attr("font-style", pt[1] ? "italic" : "normal").text(pt[0]);
    });
  });
});

// y axis title
var yl = svg.append("text").attr("transform", "translate(34,300) rotate(-90)")
  .attr("text-anchor", "middle").attr("font-size", 29).attr("fill", "#000");
yl.append("tspan").text("log ");
yl.append("tspan").attr("font-style", "italic").text("M");
yl.append("tspan").attr("font-style", "italic").attr("font-size", 20.5).attr("dy", 6).text("BH");
yl.append("tspan").attr("dy", -6).text("[");
yl.append("tspan").attr("font-style", "italic").text("M");
yl.append("tspan").attr("font-size", 20.5).attr("dy", 6).text("\u2299");
yl.append("tspan").attr("dy", -6).text("]");

// x axis title
var xl = svg.append("text").attr("x", 705).attr("y", 659)
  .attr("text-anchor", "middle").attr("font-size", 30).attr("fill", "#000");
xl.append("tspan").attr("font-style", "italic").text("\u03c3");
xl.append("tspan").attr("font-style", "italic").attr("font-size", 21).attr("dy", 6).text("in");
xl.append("tspan").attr("dy", -6).text("[");
xl.append("tspan").attr("font-style", "italic").text("km/s");
xl.append("tspan").text("]");
</script>
</body>
</html>
